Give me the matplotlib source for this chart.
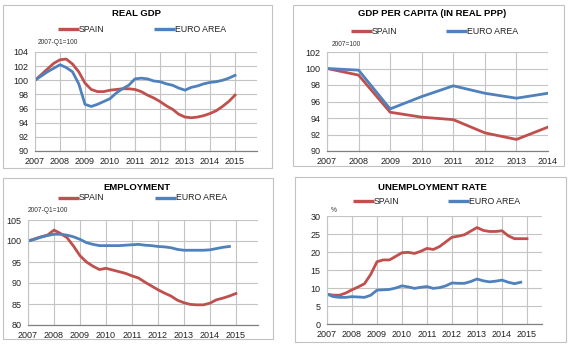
import numpy as np
import matplotlib.pyplot as plt
from matplotlib.patches import Rectangle
from matplotlib.lines import Line2D

plt.rcParams['font.family'] = ['Liberation Sans', 'DejaVu Sans']

RED = '#c0504d'
BLUE = '#4f81bd'
GRID = '#c4c4c4'

# Real GDP, quarterly from 2007-Q1 (2007-Q1=100)
gdp_spain = [100.0, 100.8, 101.6, 102.4, 102.9, 103.0, 102.3, 101.2, 99.6, 98.7,
             98.4, 98.4, 98.6, 98.7, 98.8, 98.8, 98.7, 98.4, 97.9, 97.5, 97.0,
             96.4, 95.9, 95.2, 94.8, 94.7, 94.8, 95.0, 95.3, 95.7, 96.3, 97.0, 97.9]
gdp_euro = [100.0, 100.6, 101.2, 101.7, 102.2, 101.8, 101.2, 99.5, 96.6, 96.3,
            96.6, 97.0, 97.4, 98.2, 98.8, 99.3, 100.2, 100.3, 100.2, 99.9, 99.8,
            99.5, 99.3, 98.9, 98.6, 99.0, 99.2, 99.5, 99.7, 99.8, 100.0, 100.3, 100.7]

# GDP per capita in real PPP, annual (2007=100)
pc_years = [2007, 2008, 2009, 2010, 2011, 2012, 2013, 2014]
pc_spain = [100.0, 99.2, 94.7, 94.1, 93.8, 92.2, 91.4, 92.9]
pc_euro = [100.0, 99.8, 95.1, 96.6, 97.9, 97.0, 96.4, 97.0]

# Employment, quarterly from 2007-Q1 (2007-Q1=100)
emp_spain = [100.0, 100.5, 101.0, 101.4, 102.6, 101.8, 100.8, 98.8, 96.5, 95.0,
             94.0, 93.2, 93.5, 93.1, 92.7, 92.3, 91.7, 91.2, 90.2, 89.3, 88.4,
             87.6, 86.9, 85.9, 85.3, 84.9, 84.8, 84.8, 85.2, 86.0, 86.4, 86.9, 87.5]
emp_euro = [100.0, 100.4, 100.9, 101.3, 101.6, 101.6, 101.4, 101.0, 100.4, 99.6,
            99.2, 98.9, 98.9, 98.9, 98.9, 99.0, 99.1, 99.2, 99.0, 98.9, 98.7,
            98.6, 98.4, 98.0, 97.8, 97.8, 97.8, 97.8, 97.9, 98.2, 98.5, 98.7]

# Unemployment rate (%), quarterly from 2007-Q1
unemp_spain = [8.3, 8.0, 8.0, 8.6, 9.5, 10.3, 11.2, 13.8, 17.3, 17.8, 17.8, 18.8,
               19.8, 19.9, 19.6, 20.2, 21.0, 20.7, 21.5, 22.8, 24.1, 24.4, 24.8,
               25.8, 26.8, 26.0, 25.7, 25.7, 25.9, 24.5, 23.7, 23.7, 23.7]
unemp_euro = [8.3, 7.6, 7.4, 7.4, 7.6, 7.5, 7.4, 8.0, 9.4, 9.5, 9.6, 10.0, 10.6,
              10.3, 9.9, 10.2, 10.4, 9.9, 10.1, 10.6, 11.4, 11.3, 11.3, 11.8, 12.5,
              12.0, 11.7, 11.9, 12.2, 11.6, 11.2, 11.6]

W, H = 571, 346
fig = plt.figure(figsize=(W / 100, H / 100), dpi=100)


def px_axes(left, top, right, bottom):
    return fig.add_axes([left / W, 1 - bottom / H, (right - left) / W, (bottom - top) / H])


def box(left, top, right, bottom):
    fig.add_artist(Rectangle((left / W, 1 - bottom / H), (right - left) / W, (bottom - top) / H,
                             transform=fig.transFigure, fill=False, ec='#c2c2c2', lw=0.8))


def ftext(x, y, s, **kw):
    fig.text(x / W, 1 - y / H, s, **kw)


def legend(y, red_x, blue_x):
    for x0, c, lab in [(red_x, RED, 'SPAIN'), (blue_x, BLUE, 'EURO AREA')]:
        fig.add_artist(Line2D([x0 / W, (x0 + 21) / W], [1 - y / H, 1 - y / H],
                              transform=fig.transFigure, color=c, lw=2.4, solid_capstyle='butt'))
        ftext(x0 + 21, y, lab, fontsize=6.3, va='center', ha='left', color='#222222')


def style(ax, x0, x1, y0, y1, ystep, xticks):
    ax.set_xlim(x0, x1)
    ax.set_ylim(y0, y1)
    ax.set_yticks(np.arange(y0, y1 + 0.01, ystep))
    ax.set_xticks(xticks)
    ax.grid(True, color=GRID, lw=0.8)
    ax.set_axisbelow(True)
    for s in ['top', 'right']:
        ax.spines[s].set_visible(False)
    ax.spines['left'].set_color(GRID)
    ax.spines['left'].set_linewidth(0.8)
    ax.spines['bottom'].set_color('#808080')
    ax.spines['bottom'].set_linewidth(0.9)
    ax.tick_params(length=0, labelsize=6.5, colors='#222222')
    ax.tick_params(axis='x', pad=4.5)
    ax.tick_params(axis='y', pad=4.5)


years = list(range(2007, 2016))

# Real GDP
box(3, 5, 272, 168)
ax1 = px_axes(35, 52, 257, 151)
ax1.plot(2007 + 0.25 * np.arange(len(gdp_spain)), gdp_spain, color=RED, lw=2.0)
ax1.plot(2007 + 0.25 * np.arange(len(gdp_euro)), gdp_euro, color=BLUE, lw=2.0)
style(ax1, 2007, 2015.88, 90, 104, 2, years)
ftext(137, 14, 'REAL GDP', fontsize=6.8, fontweight='bold', ha='center', va='center')
legend(29, 58, 154)
ftext(38, 43, '2007-Q1=100', fontsize=4.8, va='center', color='#333333')

# GDP per capita
box(293, 5, 564, 166)
ax2 = px_axes(327, 52, 548, 151)
ax2.plot(pc_years, pc_spain, color=RED, lw=2.0)
ax2.plot(pc_years, pc_euro, color=BLUE, lw=2.0)
style(ax2, 2007, 2014, 90, 102, 2, pc_years)
ftext(432, 14, 'GDP PER CAPITA (IN REAL PPP)', fontsize=6.8, fontweight='bold', ha='center', va='center')
legend(31, 351, 446)
ftext(332, 45, '2007=100', fontsize=4.8, va='center', color='#333333')

# Employment
box(3, 178, 273, 339)
ax3 = px_axes(28, 220, 258, 325)
ax3.plot(2007 + 0.25 * np.arange(len(emp_spain)), emp_spain, color=RED, lw=2.0)
ax3.plot(2007 + 0.25 * np.arange(len(emp_euro)), emp_euro, color=BLUE, lw=2.0)
style(ax3, 2007, 2015.85, 80, 105, 5, years)
ftext(137, 187, 'EMPLOYMENT', fontsize=6.8, fontweight='bold', ha='center', va='center')
legend(198, 58, 155)
ftext(28, 211, '2007-Q1=100', fontsize=4.8, va='center', color='#333333')

# Unemployment rate
box(295, 177, 566, 342)
ax4 = px_axes(327, 216, 542, 324)
ax4.plot(2007 + 0.25 * np.arange(len(unemp_spain)), unemp_spain, color=RED, lw=2.0)
ax4.plot(2007 + 0.25 * np.arange(len(unemp_euro)), unemp_euro, color=BLUE, lw=2.0)
style(ax4, 2007, 2015.6, 0, 30, 5, years)
ftext(432, 187, 'UNEMPLOYMENT RATE', fontsize=6.8, fontweight='bold', ha='center', va='center')
legend(201, 353, 448)
ftext(331, 210, '%', fontsize=4.8, va='center', color='#333333')

fig.savefig('out.png', dpi=100, facecolor='white')
